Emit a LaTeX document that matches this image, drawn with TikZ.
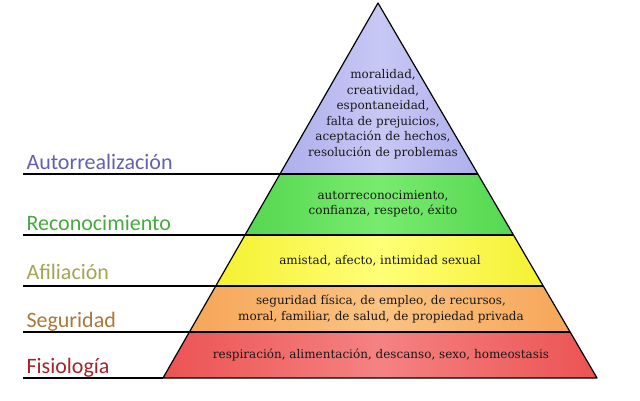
\documentclass[tikz,border=0pt]{standalone}
\usepackage{fontspec}
\setmainfont{DejaVu Serif}
\newfontfamily\labfont{Carlito}
\definecolor{vio}{RGB}{140,140,225}
\definecolor{viol}{RGB}{200,200,245}
\definecolor{grn}{RGB}{60,200,60}
\definecolor{grnl}{RGB}{120,235,110}
\definecolor{yel}{RGB}{240,235,20}
\definecolor{yell}{RGB}{255,255,120}
\definecolor{org}{RGB}{245,160,80}
\definecolor{orgl}{RGB}{250,195,130}
\definecolor{rd}{RGB}{235,80,80}
\definecolor{rdl}{RGB}{245,130,130}
\begin{document}
\begin{tikzpicture}[x=1pt,y=1pt,
  lab/.style={font=\labfont\fontsize{22}{24}\selectfont,anchor=base west},
  txt/.style={font=\fontsize{12}{15.5}\selectfont,align=center,text=black!90},
  sep/.style={line width=1.3pt}]
\useasboundingbox (0,0) rectangle (640,400);
\coordinate (apex) at (378,397);
\coordinate (bl) at (163,22);
\coordinate (br) at (597,22);
\begin{scope}
\clip (apex) -- (bl) -- (br) -- cycle;
\shade[left color=vio,right color=vio,middle color=viol] (150,226) rectangle (610,400);
\shade[left color=grn,right color=grn,middle color=grnl] (150,165) rectangle (610,226);
\shade[left color=yel,right color=yel,middle color=yell] (150,114) rectangle (610,165);
\shade[left color=org,right color=org,middle color=orgl] (150,68) rectangle (610,114);
\shade[left color=rd,right color=rd,middle color=rdl] (150,22) rectangle (610,68);
\end{scope}
\draw[line width=1.2pt,line join=round] (apex) -- (bl) -- (br) -- cycle;
\coordinate (l1) at (23,226); \coordinate (e1) at (478,226);
\coordinate (l2) at (23,165); \coordinate (e2) at (513,165);
\coordinate (l3) at (23,114); \coordinate (e3) at (543,114);
\coordinate (l4) at (23,68); \coordinate (e4) at (570,68);
\coordinate (l5) at (23,22);
\draw[sep] (l1) -- (e1);
\draw[sep] (l2) -- (e2);
\draw[sep] (l3) -- (e3);
\draw[sep] (l4) -- (e4);
\draw[sep] (l5) -- (bl);
\node[lab,text={rgb,255:red,100;green,95;blue,175}] (a) at (23,231) {Autorrealización};
\node[lab,text={rgb,255:red,70;green,170;blue,60}] (b) at (23,170) {Reconocimiento};
\node[lab,text={rgb,255:red,165;green,165;blue,80}] (c) at (23,121) {Afiliación};
\node[lab,text={rgb,255:red,170;green,120;blue,60}] (d) at (23,73) {Seguridad};
\node[lab,text={rgb,255:red,165;green,35;blue,45}] (e) at (23,27) {Fisiología};
\node[txt] (t1) at (383,286) {moralidad,\\creatividad,\\espontaneidad,\\falta de prejuicios,\\aceptación de hechos,\\resolución de problemas};
\node[txt] (t2) at (383,196) {autorreconocimiento,\\confianza, respeto, éxito};
\node[txt] (t3) at (380,139) {amistad, afecto, intimidad sexual};
\node[txt] (t4) at (381,91) {seguridad física, de empleo, de recursos,\\moral, familiar, de salud, de propiedad privada};
\node[txt] (t5) at (381,45) {respiración, alimentación, descanso, sexo, homeostasis};
\end{tikzpicture}
\end{document}
